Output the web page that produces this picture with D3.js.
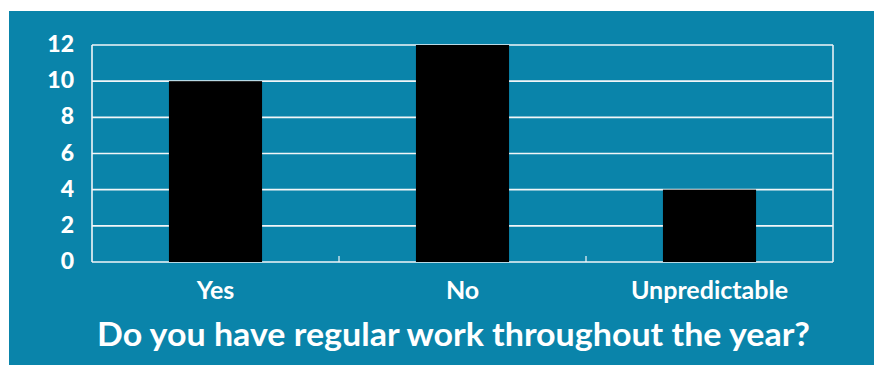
<!DOCTYPE html>
<html>
<head>
<meta charset="utf-8">
<script src="https://cdn.jsdelivr.net/npm/d3@7"></script>
<style>
  html, body { margin: 0; padding: 0; background: #ffffff; }
  svg { display: block; }
  text { font-family: Lato, "Open Sans", sans-serif; font-weight: 700; fill: #ffffff; }
</style>
</head>
<body>
<svg id="chart" width="874" height="365"></svg>
<script>
const categories = ["Yes", "No", "Unpredictable"];
const values = [10, 12, 4];
const yTicks = [0, 2, 4, 6, 8, 10, 12];
const title = "Do you have regular work throughout the year?";

(function () {
const svg = d3.select("#chart");
const W = 874, H = 365;
const bg = "#0a84aa";

svg.append("rect").attr("x", 9).attr("y", 11).attr("width", W - 9).attr("height", H - 11).attr("fill", bg);

const mL = 92, mR = 833, mT = 45, mB = 262;

const x = d3.scaleBand().domain(categories).range([mL, mR]).paddingInner(0.623).paddingOuter(0.3115);
const y = d3.scaleLinear().domain([0, 12]).range([mB, mT]);

// gridlines
svg.append("g").selectAll("line").data(yTicks).join("line")
  .attr("x1", mL).attr("x2", mR)
  .attr("y1", d => y(d)).attr("y2", d => y(d))
  .attr("stroke", "#f2f6f8").attr("stroke-width", 1.6);

// plot frame verticals
svg.append("line").attr("x1", mL).attr("x2", mL).attr("y1", y(12)).attr("y2", y(0))
  .attr("stroke", "#f2f6f8").attr("stroke-width", 1.6);
svg.append("line").attr("x1", mR).attr("x2", mR).attr("y1", y(12)).attr("y2", y(0))
  .attr("stroke", "#e8f0f4").attr("stroke-width", 1.6);

// category boundary ticks
const step = x.step();
const boundaries = categories.slice(1).map(c => x(c) - step * x.paddingInner() / 2);
svg.append("g").selectAll("line").data(boundaries).join("line")
  .attr("x1", d => d).attr("x2", d => d)
  .attr("y1", y(0) - 6).attr("y2", y(0))
  .attr("stroke", "#f2f6f8").attr("stroke-width", 1.2);

// bars
svg.append("g").selectAll("rect").data(categories).join("rect")
  .attr("x", d => x(d))
  .attr("width", x.bandwidth())
  .attr("y", (d, i) => y(values[i]))
  .attr("height", (d, i) => y(0) - y(values[i]))
  .attr("fill", "#000000");

// y tick labels
svg.append("g").selectAll("text").data(yTicks).join("text")
  .attr("x", 74)
  .attr("y", d => y(d) + 7)
  .attr("text-anchor", "end")
  .attr("font-size", 23)
  .style("font-weight", 900)
  .text(d => d);

// category labels
svg.append("g").selectAll("text").data(categories).join("text")
  .attr("x", d => x(d) + x.bandwidth() / 2)
  .attr("y", 299)
  .attr("text-anchor", "middle")
  .attr("font-size", 25)
  .text(d => d);

// title
svg.append("text")
  .attr("x", 97)
  .attr("y", 346)
  .attr("font-size", 33)
  .attr("textLength", 713)
  .attr("lengthAdjust", "spacingAndGlyphs")
  .text(title);
})();
</script>
</body>
</html>
